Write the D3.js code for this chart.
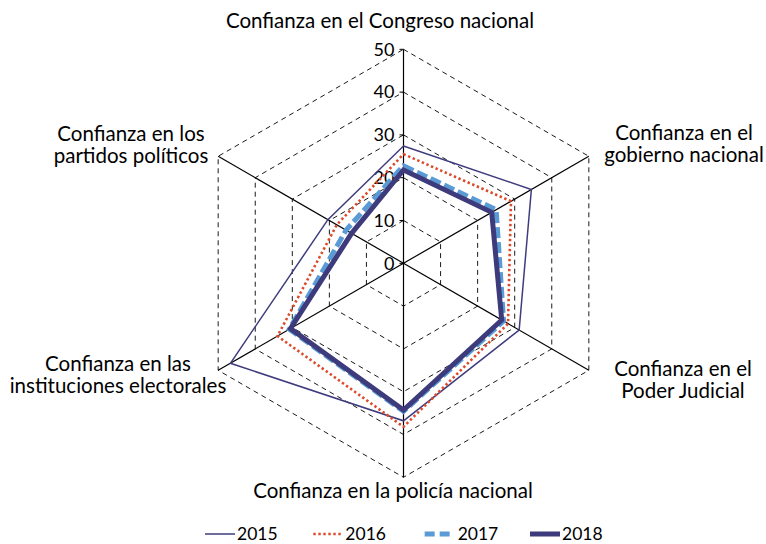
<!DOCTYPE html>
<html>
<head>
<meta charset="utf-8">
<script src="https://cdn.jsdelivr.net/npm/d3@7"></script>
<style>
  body { margin: 0; background: #fff; }
  text { font-family: Lato, "Open Sans", sans-serif; fill: #000; }
</style>
</head>
<body>
<script>
// ejes del radar (sentido horario desde arriba)
var categories = [
	["Confianza en el Congreso nacional"],
	["Confianza en el", "gobierno nacional"],
	["Confianza en el", "Poder Judicial"],
	["Confianza en la policía nacional"],
	["Confianza en las", "instituciones electorales"],
	["Confianza en los", "partidos políticos"]
];
var years = ["2015", "2016", "2017", "2018"];
var v2015 = [27.4, 34.5, 31.2, 36.8, 46.7, 20.4];
var v2016 = [25.5, 29.0, 28.2, 38.2, 34.0, 18.0];
var v2017 = [22.8, 25.0, 27.0, 34.6, 30.8, 15.5];
var v2018 = [21.8, 23.8, 26.5, 34.3, 30.5, 14.0];
var ticks = [0, 10, 20, 30, 40, 50];

var series = [v2015, v2016, v2017, v2018];

var W = 766, H = 544, cx = 403.5, cy = 263.3;

var styles = {
	"2015": { color: "#3f3c7e", width: 1.5, dash: null },
	"2016": { color: "#db4a2b", width: 2.6, dash: "2.4,2.6" },
	"2017": { color: "#5b9bd5", width: 5, dash: "11,4" },
	"2018": { color: "#3d3b7b", width: 5, dash: null }
};

var svg = d3.select('body').append('svg').attr('width', W).attr('height', H),
	g = svg.append('g').attr('transform', 'translate(' + cx + ',' + cy + ')');

var r = d3.scaleLinear().domain([0, 50]).range([0, 214]);
var angle = d3.scaleLinear().domain([0, categories.length]).range([0, 2 * Math.PI]);

function pt(i, v) {
	var a = angle(i);
	return [Math.sin(a) * r(v), -Math.cos(a) * r(v)];
}

// anillos punteados
g.selectAll('path.ring').data(ticks.slice(1)).enter().append('path')
	.attr('class', 'ring')
	.attr('d', function (t) {
		return d3.line()(categories.map(function (c, i) { return pt(i, t); })) + 'Z';
	})
	.attr('fill', 'none').attr('stroke', '#000').attr('stroke-width', 0.9)
	.attr('stroke-dasharray', '5,4');

// ejes
g.selectAll('line.spoke').data(categories).enter().append('line')
	.attr('class', 'spoke')
	.attr('x1', 0).attr('y1', 0)
	.attr('x2', function (c, i) { return pt(i, 50)[0]; })
	.attr('y2', function (c, i) { return pt(i, 50)[1]; })
	.attr('stroke', '#000').attr('stroke-width', 1.2);

// marcas del eje vertical
g.selectAll('line.tick').data(ticks).enter().append('line')
	.attr('x1', -4).attr('x2', 0)
	.attr('y1', function (t) { return -r(t); }).attr('y2', function (t) { return -r(t); })
	.attr('stroke', '#000').attr('stroke-width', 1);
g.selectAll('text.tick').data(ticks).enter().append('text')
	.attr('class', 'tick')
	.attr('x', -9).attr('y', function (t) { return -r(t); })
	.attr('dy', '0.35em').attr('text-anchor', 'end')
	.attr('font-size', 18).text(function (t) { return t; });

// series
var radial = d3.lineRadial()
	.angle(function (d, i) { return angle(i); })
	.radius(function (d) { return r(d); })
	.curve(d3.curveLinearClosed);

g.selectAll('path.serie').data(series).enter().append('path')
	.attr('class', 'serie')
	.attr('d', radial)
	.attr('fill', 'none')
	.attr('stroke', function (d, i) { return styles[years[i]].color; })
	.attr('stroke-width', function (d, i) { return styles[years[i]].width; })
	.attr('stroke-dasharray', function (d, i) { return styles[years[i]].dash; })
	.attr('stroke-linejoin', 'miter');

// etiquetas de categorías
var labelPos = [[380, 28], [684, 140], [683, 376], [393, 498], [118, 371], [131, 141]];
svg.selectAll('text.cat').data(categories).enter().append('text')
	.attr('class', 'cat')
	.attr('font-size', 20.5)
	.attr('text-anchor', 'middle')
	.attr('transform', function (d, i) { return 'translate(' + labelPos[i] + ')'; })
	.each(function (d) {
		var t = d3.select(this);
		d.forEach(function (line, k) {
			t.append('tspan').attr('x', 0).attr('y', k * 22).text(line);
		});
	});

// leyenda
var lx = d3.scalePoint().domain(years).range([205, 530]);
var leg = svg.selectAll('g.leg').data(years).enter().append('g')
	.attr('class', 'leg')
	.attr('transform', function (y) { return 'translate(' + lx(y) + ',534)'; });
leg.append('line')
	.attr('x1', function (y) { return y === "2017" ? 3 : 0; })
	.attr('x2', function (y) { return y === "2017" ? 28 : 30; })
	.attr('y1', 0).attr('y2', 0)
	.attr('stroke', function (y) { return styles[y].color; })
	.attr('stroke-width', function (y) { return styles[y].width; })
	.attr('stroke-dasharray', function (y) { return y === "2017" ? "10,5" : styles[y].dash; });
leg.append('text')
	.attr('x', function (y) { return y === "2017" ? 36 : 32; }).attr('y', 6)
	.attr('font-size', 17.5)
	.text(function (y) { return y; });
</script>
</body>
</html>
